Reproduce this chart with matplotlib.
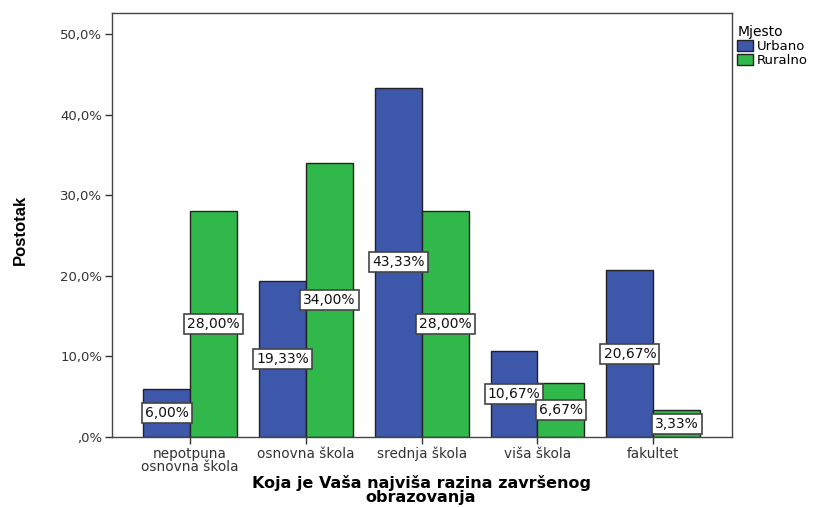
import matplotlib
matplotlib.use("Agg")
import matplotlib.pyplot as plt
import numpy as np

categories = ["nepotpuna\nosnovna škola", "osnovna škola", "srednja škola", "viša škola", "fakultet"]
urbano = [6.00, 19.33, 43.33, 10.67, 20.67]
ruralno = [28.00, 34.00, 28.00, 6.67, 3.33]
series_names = ["Urbano", "Ruralno"]
yticks = [0, 10, 20, 30, 40, 50]
ytick_labels = [",0%", "10,0%", "20,0%", "30,0%", "40,0%", "50,0%"]

plt.rcParams["font.family"] = ["DejaVu Sans"]

fig = plt.figure(figsize=(8.17, 5.07), dpi=100)
ax = fig.add_axes([112 / 817, 1 - 437 / 507, 620 / 817, 424 / 507])

blue = "#3D57AB"
green = "#30B84B"
w = 0.405
x = np.arange(len(categories))

ax.bar(x - w / 2, urbano, w, color=blue, edgecolor="#222222", linewidth=1.0, label=series_names[0])
ax.bar(x + w / 2, ruralno, w, color=green, edgecolor="#222222", linewidth=1.0, label=series_names[1])

def fmt(v):
    return f"{v:.2f}".replace(".", ",") + "%"

box = dict(boxstyle="square,pad=0.22", facecolor="white", edgecolor="#444444", linewidth=1.2)
for xs, vals in ((x - w / 2, urbano), (x + w / 2, ruralno)):
    for xi, v in zip(xs, vals):
        ax.text(xi, v / 2, fmt(v), ha="center", va="center", fontsize=10,
                color="#111111", bbox=box, zorder=5)

ax.set_xlim(-0.675, 4.68)
ax.set_ylim(0, 52.6)
ax.set_yticks(yticks)
ax.set_yticklabels(ytick_labels, fontsize=9.5, color="#333333")
ax.set_xticks(x)
ax.set_xticklabels(categories, fontsize=9.8, color="#333333", linespacing=0.9)
ax.tick_params(axis="both", length=5, width=1.0, color="#333333", pad=2)
for s in ax.spines.values():
    s.set_color("#444444")
    s.set_linewidth(1.0)

ax.set_ylabel("Postotak", fontsize=12, fontweight="bold",
              family=["Liberation Sans Narrow", "Liberation Sans"])
ax.yaxis.set_label_coords(-0.136, 0.488)

fig.text(421 / 817, 2 / 507, "Koja je Vaša najviša razina završenog\nobrazovanja",
         ha="center", va="bottom", fontsize=11.5, fontweight="bold", linespacing=0.92)

leg = ax.legend(loc="upper left", bbox_to_anchor=(1.0, 0.985), title="Mjesto", frameon=False,
                fontsize=9.5, title_fontsize=10, handlelength=1.2, handleheight=0.85,
                handletextpad=0.3, labelspacing=0.1, borderaxespad=0.2, borderpad=0.2)
leg._legend_box.align = "left"
for p in leg.get_patches():
    p.set_edgecolor("#222222")

fig.savefig("out.png", dpi=100)
